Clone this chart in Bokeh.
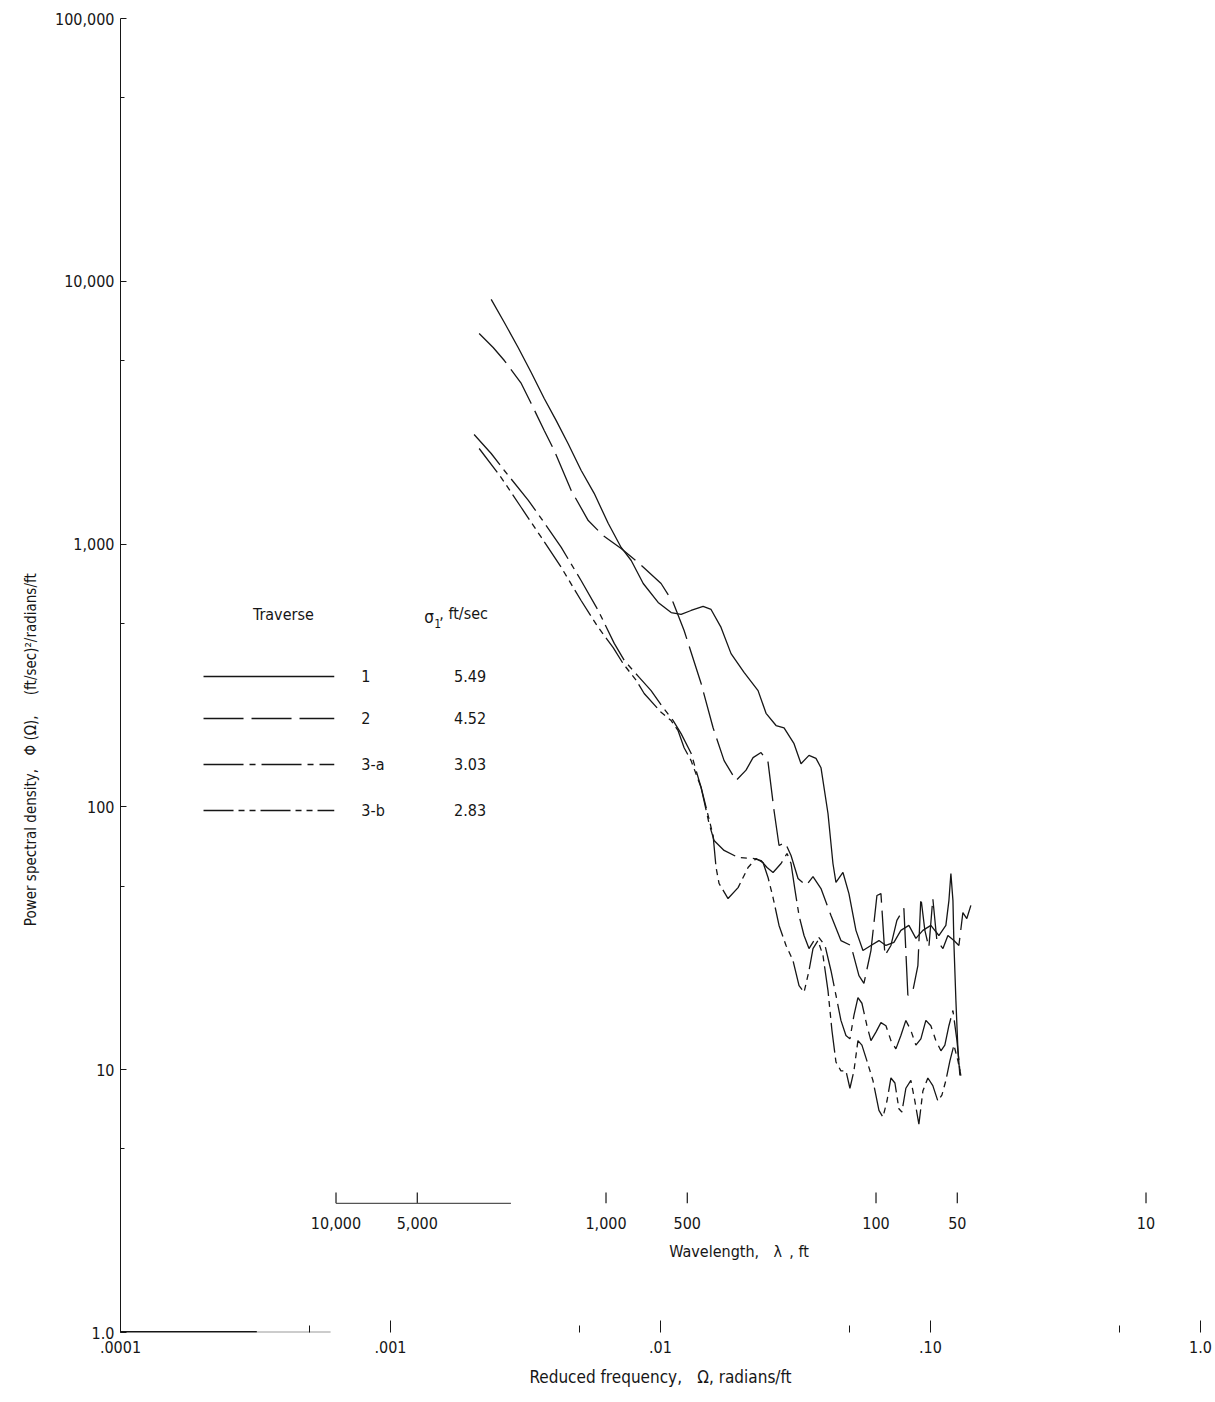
import math
from bokeh.plotting import figure
from bokeh.models import FixedTicker
from bokeh.core.properties import value
from bokeh.embed import file_html
from bokeh.resources import INLINE

FONT = "Liberation Sans Narrow, DejaVu Sans Condensed, Arial Narrow, sans-serif"
SP = "\u2002"  # en space (not collapsed in SVG text)

# ---------------- data ----------------
omega_1 = [0.00236, 0.00264, 0.00297, 0.00332, 0.00371, 0.00411, 0.00455, 0.00508, 0.00568, 0.00640,
           0.00715, 0.00779, 0.00863, 0.00980, 0.01095, 0.01192, 0.01298, 0.01438, 0.01539, 0.01676,
           0.01825, 0.02039, 0.02298, 0.02460, 0.02679, 0.02868, 0.03123, 0.03315, 0.03548, 0.03766,
           0.03930, 0.04172, 0.04352, 0.04465, 0.04740, 0.04988, 0.05295, 0.05620, 0.06017, 0.06443,
           0.06839, 0.07320, 0.07768, 0.08316, 0.08828, 0.09371, 0.1003, 0.1074, 0.1140, 0.1170,
           0.1190, 0.1211, 0.1221, 0.1242, 0.1264, 0.1285]
psd_1 = [8530, 6970, 5600, 4500, 3580, 2950, 2410, 1910, 1560, 1200,
         971, 866, 708, 600, 549, 540, 559, 579, 564, 482,
         383, 325, 277, 227, 204, 200, 174, 146, 157, 153,
         141, 94.4, 60.9, 51.6, 56.3, 46.8, 33.9, 28.4, 29.7, 31.0,
         29.7, 30.5, 33.9, 35.4, 31.6, 33.9, 35.4, 32.4, 35.4, 44.0,
         55.8, 44.0, 30.2, 18.3, 11.8, 9.5]

omega_2 = [0.00213, 0.00240, 0.00264, 0.00305, 0.00332, 0.00371, 0.00404, 0.00467, 0.00540, 0.00613,
           0.00715, 0.00834, 0.01005, 0.01114, 0.01223, 0.01414, 0.01566, 0.01720, 0.01905, 0.02074,
           0.02202, 0.02357, 0.02502, 0.02633, 0.02748, 0.02893, 0.03044, 0.03231, 0.03459, 0.03671,
           0.03930, 0.04280, 0.04659, 0.05073, 0.05432, 0.05668, 0.06017, 0.06333, 0.06553, 0.06781,
           0.07136, 0.07508, 0.07969, 0.08245, 0.08605, 0.08980, 0.09212, 0.09531, 0.09861, 0.1020,
           0.1056, 0.1112, 0.1160, 0.1221, 0.1274, 0.1318, 0.1363, 0.1411]
psd_2 = [6330, 5600, 4995, 4085, 3428, 2706, 2271, 1600, 1229, 1078,
         962, 844, 708, 600, 469, 295, 200, 150, 126, 138,
         154, 161, 148, 96.9, 71.3, 73.2, 65.3, 53.4, 50.2, 54.3,
         48.9, 38.6, 31.0, 29.7, 22.8, 21.3, 28.4, 46.0, 46.8, 27.2,
         29.7, 37.0, 41.1, 19.2, 20.0, 24.9, 45.2, 33.9, 29.2, 44.8,
         31.0, 28.9, 32.4, 31.0, 29.7, 39.6, 37.6, 42.2]

omega_3a = [0.00204, 0.00236, 0.00264, 0.00324, 0.00362, 0.00429, 0.00508, 0.00588, 0.00674, 0.00734,
            0.00834, 0.00923, 0.01022, 0.01114, 0.01192, 0.01298, 0.01414, 0.01513, 0.01579, 0.01720,
            0.01938, 0.02221, 0.02357, 0.02481, 0.02611, 0.02796, 0.02942, 0.03044, 0.03150, 0.03259,
            0.03401, 0.03548, 0.03703, 0.03864, 0.04067, 0.04280, 0.04465, 0.04659, 0.04862, 0.05030,
            0.05205, 0.05386, 0.05572, 0.05815, 0.06017, 0.06279, 0.06553, 0.06839, 0.07136, 0.07444,
            0.07768, 0.08106, 0.08459, 0.08828, 0.09212, 0.09612, 0.1003, 0.1047, 0.1093, 0.1130,
            0.1170, 0.1211, 0.1253, 0.1285]
psd_3a = [2613, 2212, 1906, 1466, 1251, 971, 727, 559, 419, 361,
          311, 277, 239, 213, 190, 160, 118.5, 86.5, 74.5, 68.3,
          64.2, 63.6, 62.5, 58.8, 56.3, 60.9, 66.5, 60.9, 48.1, 38.6,
          32.4, 28.9, 31.0, 31.8, 29.7, 23.8, 19.2, 15.4, 13.5, 13.1,
          16.1, 18.8, 17.9, 14.7, 12.9, 13.9, 15.1, 14.7, 12.9, 12.0,
          13.5, 15.4, 14.1, 12.4, 13.1, 15.4, 14.7, 12.9, 11.8, 12.4,
          14.7, 16.8, 12.9, 9.9]

omega_3b = [0.00213, 0.00257, 0.00305, 0.00362, 0.00429, 0.00508, 0.00588, 0.00668, 0.00727, 0.00813,
            0.00870, 0.01005, 0.01095, 0.01162, 0.01223, 0.01298, 0.01414, 0.01501, 0.01566, 0.01606,
            0.01648, 0.01779, 0.01938, 0.02110, 0.02259, 0.02398, 0.02502, 0.02611, 0.02748, 0.02917,
            0.03096, 0.03259, 0.03401, 0.03548, 0.03671, 0.03831, 0.03998, 0.04172, 0.04315, 0.04465,
            0.04659, 0.04862, 0.05030, 0.05205, 0.05386, 0.05572, 0.05815, 0.06121, 0.06443, 0.06666,
            0.06898, 0.07136, 0.07383, 0.07637, 0.07834, 0.08106, 0.08459, 0.08753, 0.09057, 0.09371,
            0.09777, 0.1020, 0.1065, 0.1102, 0.1140, 0.1180, 0.1221, 0.1264, 0.1296]
psd_3b = [2311, 1792, 1378, 1060, 815, 610, 482, 404, 351, 303,
          270, 229, 213, 195, 168, 150, 118.5, 92.8, 77.8, 58.8,
          51.1, 44.8, 49.3, 58.8, 63.6, 61.4, 53.9, 45.2, 35.4, 29.7,
          26.0, 20.9, 19.7, 23.8, 28.9, 31.0, 27.2, 20.0, 14.1, 10.7,
          9.9, 9.9, 8.5, 9.9, 12.9, 12.4, 10.8, 9.1, 7.0, 6.6,
          7.6, 9.3, 8.9, 7.1, 6.9, 8.5, 9.1, 7.6, 6.2, 8.3,
          9.3, 8.7, 7.6, 8.0, 9.1, 10.8, 12.4, 10.8, 9.5]

traverses = ["1", "2", "3-a", "3-b"]
sigma_1 = ["5.49", "4.52", "3.03", "2.83"]

x_ticks = [1e-4, 1e-3, 1e-2, 1e-1, 1.0]
x_tick_labels = [".0001", ".001", ".01", ".10", "1.0"]
x_minor_ticks = [5e-4, 5e-3, 5e-2, 5e-1]
y_ticks = [1.0, 10.0, 100.0, 1000.0, 10000.0, 100000.0]
y_tick_labels = ["1.0", "10", "100", "1,000", "10,000", "100,000"]
y_minor_ticks = [5.0, 50.0, 500.0, 5000.0, 50000.0]
wl_ticks = [10000, 5000, 1000, 500, 100, 50, 10]
wl_tick_labels = ["10,000", "5,000", "1,000", "500", "100", "50", "10"]

# ---------------- figure ----------------
p = figure(width=1215, height=1402, x_axis_type="log", y_axis_type="log",
           x_range=(1e-4, 1.0), y_range=(1.0, 1e5),
           output_backend="svg", toolbar_location=None,
           min_border_left=120, min_border_right=15, min_border_top=18, min_border_bottom=70)
p.outline_line_color = None
p.xgrid.visible = False
p.ygrid.visible = False
p.background_fill_color = "white"
p.border_fill_color = "white"

INK = "#161616"

# y axis
ya = p.yaxis[0]
ya.ticker = FixedTicker(ticks=y_ticks, minor_ticks=y_minor_ticks)
ya.major_label_overrides = {t: l for t, l in zip(y_ticks, y_tick_labels)}
ya.major_tick_in = 6
ya.major_tick_out = 0
ya.minor_tick_in = 4
ya.minor_tick_out = 0
ya.axis_line_color = INK
ya.major_tick_line_color = INK
ya.minor_tick_line_color = INK
ya.major_label_text_font = FONT
ya.major_label_text_font_size = "16px"
ya.major_label_text_color = INK
ya.major_label_standoff = 6
# em-space padding at the end shifts the centred label downwards, as in the original
ya.axis_label = ("Power spectral density," + SP * 2 + "\u03a6 (\u03a9)," + SP * 3
                 + "(ft/sec)\u00b2/radians/ft" + "\u2003" * 11)
ya.axis_label_text_font = FONT
ya.axis_label_text_font_size = "15px"
ya.axis_label_text_font_style = "normal"
ya.axis_label_text_color = INK
ya.axis_label_standoff = 12

# x axis
xa = p.xaxis[0]
xa.ticker = FixedTicker(ticks=x_ticks, minor_ticks=x_minor_ticks)
xa.major_label_overrides = {t: l for t, l in zip(x_ticks, x_tick_labels)}
xa.major_tick_in = 12
xa.major_tick_out = 0
xa.minor_tick_in = 7
xa.minor_tick_out = 0
xa.axis_line_color = None
xa.major_tick_line_color = INK
xa.minor_tick_line_color = INK
xa.major_label_text_font = FONT
xa.major_label_text_font_size = "16px"
xa.major_label_text_color = INK
xa.major_label_standoff = 8
xa.axis_label = "Reduced frequency," + SP * 2 + "\u03a9, radians/ft"
xa.axis_label_text_font = FONT
xa.axis_label_text_font_size = "17px"
xa.axis_label_text_font_style = "normal"
xa.axis_label_text_color = INK
xa.axis_label_standoff = 11

# partial baseline of the frequency axis (as in the scanned original)
p.segment(x0=[x_ticks[0]], y0=[y_ticks[0]], x1=[x_ticks[0] * 3.2], y1=[y_ticks[0]],
          line_color=INK, line_width=3)
p.segment(x0=[x_ticks[0] * 3.2], y0=[y_ticks[0]], x1=[x_ticks[0] * 6.0], y1=[y_ticks[0]],
          line_color="#9a9a9a", line_width=2)

# ---------------- curves ----------------
dashes = ["solid", "40 8", "40 6 6 6", "30 5 6 5 6 5"]
series = [(omega_1, psd_1), (omega_2, psd_2), (omega_3a, psd_3a), (omega_3b, psd_3b)]
for (xs, ys), d in zip(series, dashes):
    p.line(xs, ys, line_color=INK, line_width=1.3, line_dash=d)

# ---------------- wavelength scale ----------------
wl_x = [2 * math.pi / w for w in wl_ticks]
WL_BASE = 3.10
p.segment(x0=wl_x, y0=[WL_BASE] * len(wl_x), x1=wl_x, y1=[WL_BASE * 1.10] * len(wl_x),
          line_color=INK, line_width=1.2)
p.segment(x0=[wl_x[0]], y0=[WL_BASE], x1=[2 * math.pi / 2250], y1=[WL_BASE],
          line_color="#555555", line_width=1.2)
p.text(x=wl_x, y=[2.62] * len(wl_x), text=wl_tick_labels,
       text_font=value(FONT), text_font_size="16px", text_color=INK,
       text_align="center", text_baseline="middle")
p.text(x=[0.01954], y=[2.03], text=["Wavelength," + SP * 2 + "\u03bb" + SP + ", ft"],
       text_font=value(FONT), text_font_size="16px", text_color=INK,
       text_align="center", text_baseline="middle")

# ---------------- legend table ----------------
LX0, LX1 = 2.03e-4, 6.19e-4
row_y = [313.5, 217.0, 145.0, 96.9]
for yv, d in zip(row_y, dashes):
    p.line([LX0, LX1], [yv, yv], line_color=INK, line_width=1.3, line_dash=d)
p.text(x=[7.8e-4] * 4, y=row_y, text=traverses,
       text_font=value(FONT), text_font_size="16px", text_color=INK,
       text_align="left", text_baseline="middle")
p.text(x=[1.72e-3] * 4, y=row_y, text=sigma_1,
       text_font=value(FONT), text_font_size="16px", text_color=INK,
       text_align="left", text_baseline="middle")
HEAD_Y = 540
p.text(x=[4.01e-4], y=[HEAD_Y], text=["Traverse"],
       text_font=value(FONT), text_font_size="16px", text_color=INK,
       text_align="center", text_baseline="middle")
p.text(x=[1.334e-3], y=[HEAD_Y], text=["\u03c3"], y_offset=3,
       text_font=value(FONT), text_font_size="17px", text_color=INK,
       text_align="left", text_baseline="middle")
p.text(x=[1.334e-3], y=[HEAD_Y], text=["1"], x_offset=10, y_offset=9,
       text_font=value(FONT), text_font_size="12px", text_color=INK,
       text_align="left", text_baseline="middle")
p.text(x=[1.334e-3], y=[HEAD_Y], text=[",  ft/sec"], x_offset=15, y_offset=-1,
       text_font=value(FONT), text_font_size="16px", text_color=INK,
       text_align="left", text_baseline="middle")

open("out.html", "w").write(file_html(p, INLINE))
